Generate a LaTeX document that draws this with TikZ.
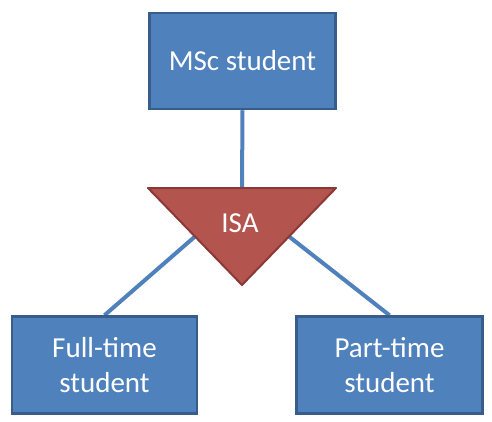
\documentclass[tikz,border=0pt]{standalone}
\usepackage{fontspec}
\setmainfont{Carlito}
\usetikzlibrary{backgrounds,calc}
\definecolor{boxfill}{HTML}{4F81BD}
\definecolor{boxedge}{HTML}{385D8A}
\definecolor{isafill}{HTML}{B3554E}
\definecolor{isaedge}{HTML}{8C3836}
\begin{document}
\begin{tikzpicture}[x=1pt,y=-1pt,
  entity/.style={draw=boxedge,line width=2.5pt,fill=boxfill,text=white,
    font=\fontsize{29}{35}\selectfont,align=center,inner sep=0pt},
  isatext/.style={text=white,font=\fontsize{29}{35}\selectfont,inner sep=0pt},
  isatri/.style={draw=isaedge,line width=2pt,fill=isafill,line join=round},
  link/.style={draw=boxfill,line width=4pt}]
\useasboundingbox (0,0) rectangle (492,422);
\node[entity,minimum width=186pt,minimum height=96pt] (msc) at (242.5,61) {MSc student};
\node[entity,minimum width=185pt,minimum height=97pt] (ft) at (104.5,365) {Full-time\\student};
\node[entity,minimum width=186pt,minimum height=97pt] (pt) at (389.5,365) {Part-time\\student};
\coordinate (tl) at (148,188);
\coordinate (tr) at (336,188);
\coordinate (ap) at (242,285);
\coordinate (tm) at (242,188);
\path[isatri] (tl) -- (tr) -- (ap) -- cycle;
\node[isatext] (isa) at (240,223) {ISA};
\begin{scope}[on background layer]
\draw[link] (msc.south) -- (tm);
\draw[link] ($(tl)!0.5!(ap)$) -- (ft.north);
\draw[link] ($(tr)!0.5!(ap)$) -- (pt.north);
\end{scope}
\end{tikzpicture}
\end{document}
